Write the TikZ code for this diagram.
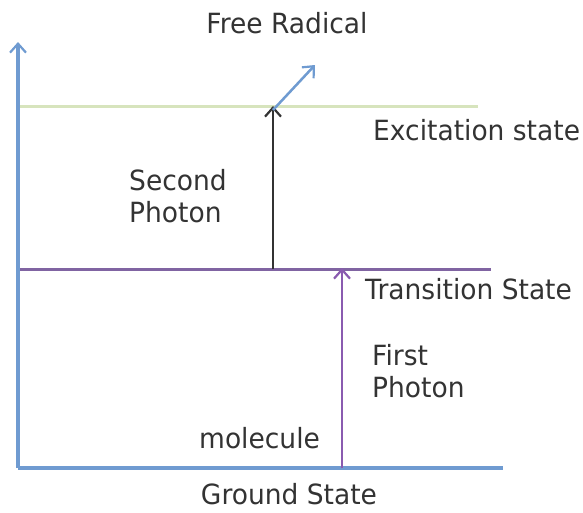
\documentclass[tikz,border=0pt]{standalone}
\usepackage{fontspec}
\setmainfont{DejaVu Sans}
\usetikzlibrary{arrows.meta}
\definecolor{axisblue}{HTML}{6F9BD1}
\definecolor{exgreen}{HTML}{D7E4BD}
\definecolor{trpurple}{HTML}{8064A2}
\definecolor{phpurple}{HTML}{8A5BB0}
\definecolor{txtgray}{HTML}{333333}
\begin{document}
\begin{tikzpicture}[x=1pt,y=-1pt,
  lbl/.style={font=\fontsize{26.5}{30}\selectfont, text=txtgray, inner sep=0pt, yscale=1.05},
  tip/.style={-{Straight Barb[length=9pt,width=16pt,line width=2.2pt]}}]
\useasboundingbox (0,0) rectangle (583,512);
\coordinate (origin) at (18,468);
\coordinate (ytop) at (18,42);
\coordinate (xend) at (503,468);
\coordinate (exL) at (18,106);
\coordinate (exR) at (478,106);
\coordinate (trL) at (18,269);
\coordinate (trR) at (491,269);
\coordinate (p1s) at (342,468);
\coordinate (p1e) at (342,268);
\coordinate (p2s) at (273,269);
\coordinate (p2e) at (273,106);
\coordinate (frs) at (273,110);
\coordinate (fre) at (315,65);
\draw[exgreen, line width=3pt] (exL) -- (exR);
\draw[trpurple, line width=3pt] (trL) -- (trR);
\draw[axisblue, line width=3.5pt, tip] (origin) -- (ytop);
\draw[axisblue, line width=3.5pt] (origin) -- (xend);
\draw[phpurple, line width=2.5pt, tip] (p1s) -- (p1e);
\draw[black!80, line width=2pt, tip] (p2s) -- (p2e);
\draw[axisblue, line width=2.5pt, tip] (frs) -- (fre);
\node[lbl] (fr) at (287,23) {Free Radical};
\node[lbl, anchor=west] (ex) at (373,130) {Excitation state};
\node[lbl, anchor=west, align=left] (sp) at (129,196) {Second\\Photon};
\node[lbl, anchor=west] (ts) at (365,289) {Transition State};
\node[lbl, anchor=west, align=left] (fp) at (372,371) {First\\Photon};
\node[lbl, anchor=west] (mol) at (199,438) {molecule};
\node[lbl] (gs) at (289,494) {Ground State};
\end{tikzpicture}
\end{document}
